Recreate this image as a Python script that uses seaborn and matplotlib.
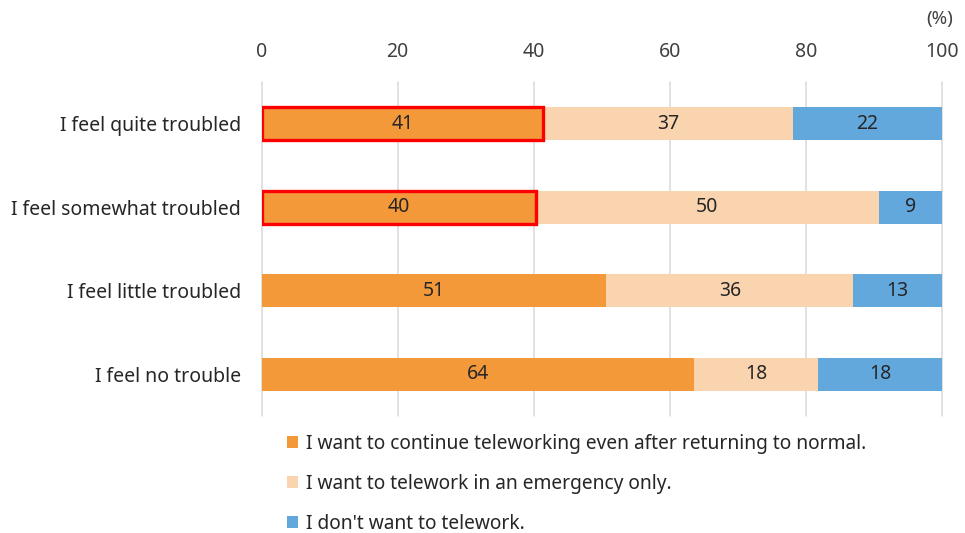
import matplotlib
matplotlib.use("Agg")
import matplotlib.pyplot as plt
import seaborn as sns
import numpy as np
import pandas as pd

# Survey answers by how troubled respondents feel (percent of respondents)
categories = [
    "I feel quite troubled",
    "I feel somewhat troubled",
    "I feel little troubled",
    "I feel no trouble",
]
continue_after = [41.4, 40.3, 50.7, 63.6]
emergency_only = [36.7, 50.4, 36.3, 18.2]
no_telework = [21.9, 9.3, 13.0, 18.2]

series_names = [
    "I want to continue teleworking even after returning to normal.",
    "I want to telework in an emergency only.",
    "I don't want to telework.",
]
series_colors = ["#F4993A", "#FAD4AF", "#63A8DC"]
highlighted_rows = [0, 1]
x_ticks = [0, 20, 40, 60, 80, 100]

sns.set_theme(style="white")
plt.rcParams["font.family"] = ["Noto Sans", "DejaVu Sans"]

df = pd.DataFrame({
    "category": categories,
    "continue": continue_after,
    "emergency": emergency_only,
    "none": no_telework,
})
# cumulative edges for the stacked layout
df["cum1"] = df["continue"]
df["cum2"] = df["continue"] + df["emergency"]
df["cum3"] = df["cum2"] + df["none"]

fig = plt.figure(figsize=(9.65, 5.33), dpi=100)
ax = fig.add_axes([0.271, 0.2195, 0.705, 0.6266])

# draw the longest layer first, each shorter layer on top of it
layers = [("cum3", series_colors[2]), ("cum2", series_colors[1]), ("cum1", series_colors[0])]
containers = []
for col, color in layers:
    sns.barplot(data=df, x=col, y="category", order=categories, orient="h",
                color=color, width=0.4, saturation=1, errorbar=None, ax=ax,
                linewidth=0, zorder=2)
    containers.append(ax.containers[-1])

# outline the first segment of the highlighted rows
orange_bars = containers[2]
for i in highlighted_rows:
    patch = orange_bars.patches[i]
    patch.set_edgecolor("#FF0000")
    patch.set_linewidth(2.4)
    patch.set_zorder(3)

# segment value labels at the middle of each segment
segments = [
    (np.zeros(len(df)), df["continue"].to_numpy()),
    (df["cum1"].to_numpy(), df["emergency"].to_numpy()),
    (df["cum2"].to_numpy(), df["none"].to_numpy()),
]
for start, vals in segments:
    for row, (s, v) in enumerate(zip(start, vals)):
        ax.text(s + v / 2, row, f"{v:.0f}", ha="center", va="center",
                fontsize=14, color="#262626", zorder=4)

ax.set_xlim(0, 100)
ax.set_ylim(3.5, -0.5)
ax.set_xticks(x_ticks)
ax.set_xticklabels([str(t) for t in x_ticks])
ax.xaxis.tick_top()
ax.tick_params(axis="x", length=0, pad=14.5, labelsize=14, labelcolor="#404040")
ax.tick_params(axis="y", length=0, pad=15, labelsize=14, labelcolor="#262626")
ax.set_xlabel("")
ax.set_ylabel("")
for spine in ax.spines.values():
    spine.set_visible(False)
ax.grid(axis="x", color="#D9D9D9", linewidth=1.1, zorder=0)
ax.grid(axis="y", visible=False)
ax.set_axisbelow(True)
for line in ax.get_xgridlines():
    line.set_clip_on(False)

fig.text(940 / 965, 1 - 19 / 533, "(%)", ha="center", va="center",
         fontsize=13.5, color="#404040")

handles = [plt.Rectangle((0, 0), 1, 1, facecolor=c, edgecolor="none") for c in series_colors]
fig.legend(handles, series_names, loc="upper left",
           bbox_to_anchor=(277 / 965, 1 - 424 / 533), frameon=False,
           fontsize=13.8, handlelength=0.6, handleheight=0.6,
           handletextpad=0.4, labelspacing=1.05, borderpad=0,
           labelcolor="#262626")

fig.savefig("out.png", dpi=100)
